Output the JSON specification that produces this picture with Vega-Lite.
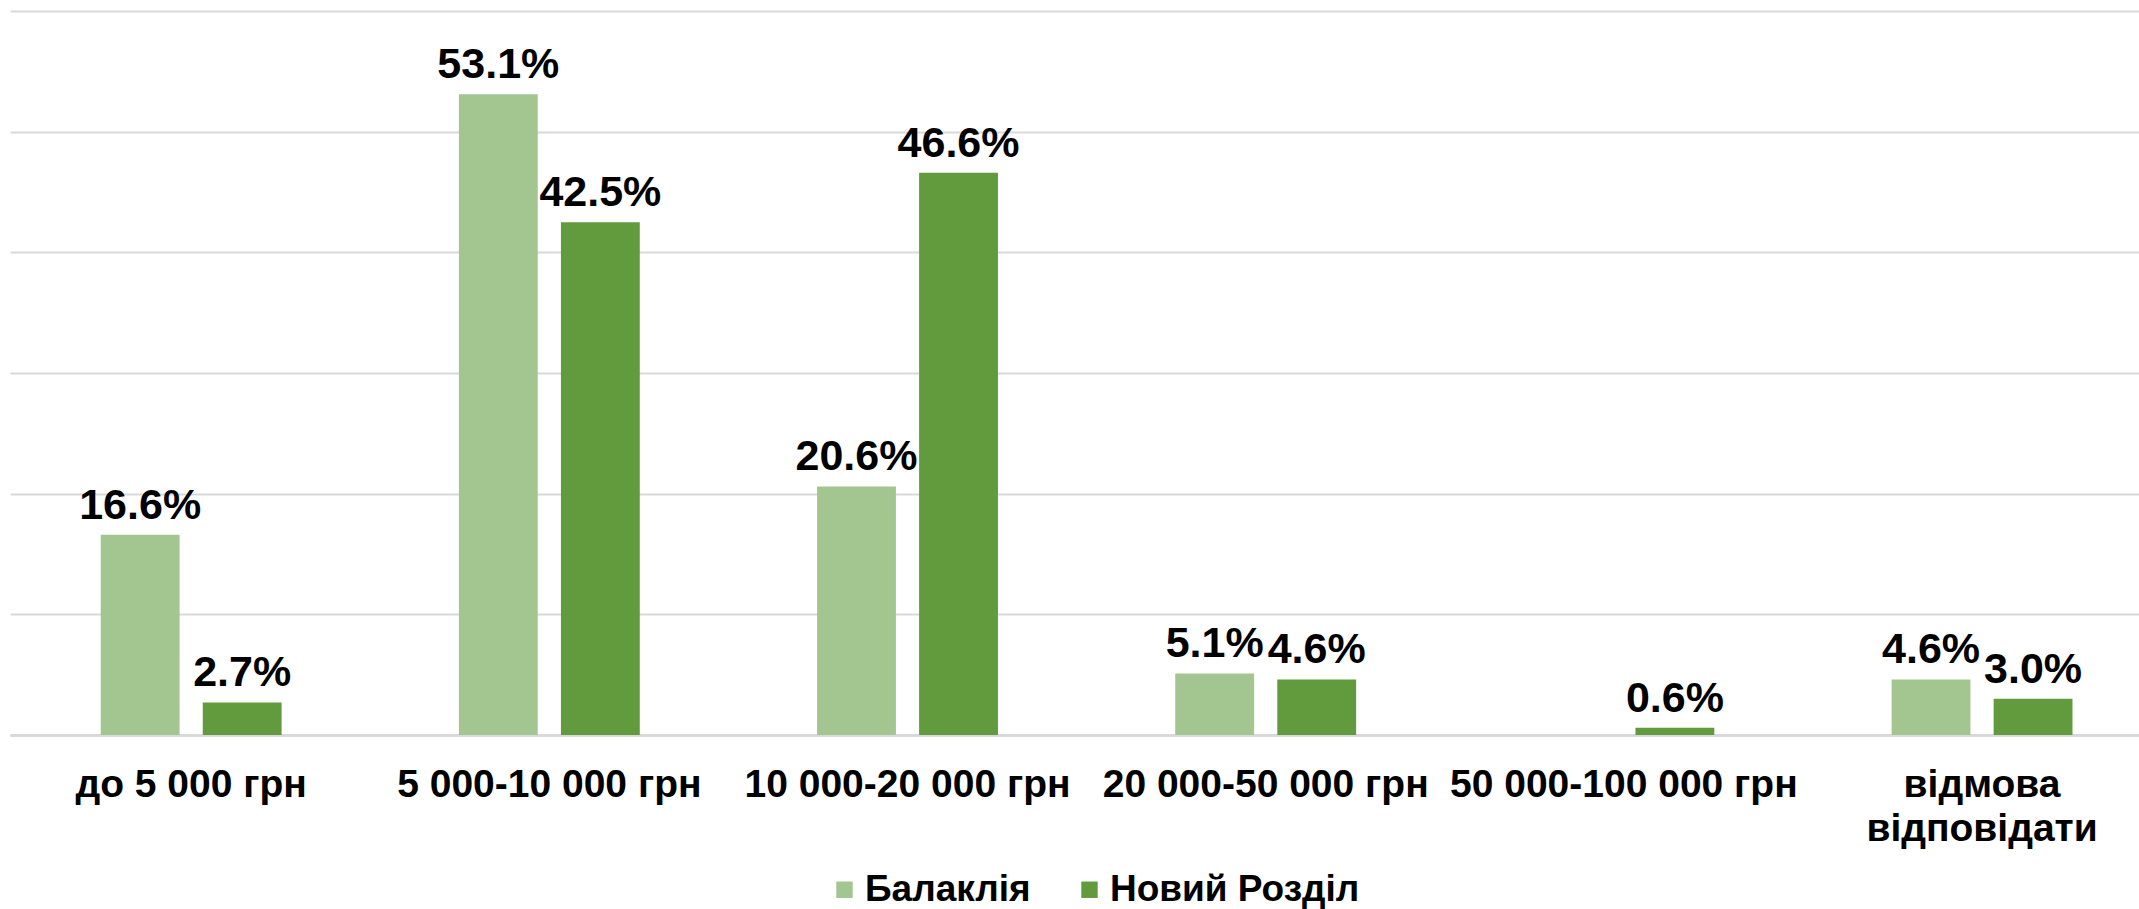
{
  "$schema": "https://vega.github.io/schema/vega-lite/v6.json",
  "width": 2129,
  "height": 724,
  "autosize": {"type": "none"},
  "padding": {"left": 10, "top": 11, "right": 0, "bottom": 174},
  "background": "white",
  "config": {
    "view": {"stroke": null},
    "font": "Liberation Sans"
  },
  "data": {
    "values": [
      {"cat": "до 5 000 грн", "city": "Балаклія", "v": 0.166},
      {"cat": "до 5 000 грн", "city": "Новий Розділ", "v": 0.027},
      {"cat": "5 000-10 000 грн", "city": "Балаклія", "v": 0.531},
      {"cat": "5 000-10 000 грн", "city": "Новий Розділ", "v": 0.425},
      {"cat": "10 000-20 000 грн", "city": "Балаклія", "v": 0.206},
      {"cat": "10 000-20 000 грн", "city": "Новий Розділ", "v": 0.466},
      {"cat": "20 000-50 000 грн", "city": "Балаклія", "v": 0.051},
      {"cat": "20 000-50 000 грн", "city": "Новий Розділ", "v": 0.046},
      {"cat": "50 000-100 000 грн", "city": "Новий Розділ", "v": 0.006},
      {"cat": "відмова відповідати", "city": "Балаклія", "v": 0.046},
      {"cat": "відмова відповідати", "city": "Новий Розділ", "v": 0.030}
    ]
  },
  "encoding": {
    "x": {
      "field": "cat",
      "type": "nominal",
      "sort": ["до 5 000 грн", "5 000-10 000 грн", "10 000-20 000 грн", "20 000-50 000 грн", "50 000-100 000 грн", "відмова відповідати"],
      "scale": {"paddingInner": 0.495, "paddingOuter": 0.2195, "align": 0.577},
      "axis": {
        "title": null,
        "labelAngle": 0,
        "labelFontSize": 39,
        "labelFontWeight": "bold",
        "labelColor": "#000000",
        "labelPadding": 30,
        "labelLineHeight": 44,
        "labelLimit": 0,
        "ticks": false,
        "domainColor": "#D9D9D9",
        "domainWidth": 3,
        "labelExpr": "datum.value == 'відмова відповідати' ? ['відмова', 'відповідати'] : datum.value"
      }
    },
    "xOffset": {
      "field": "city",
      "type": "nominal",
      "sort": ["Балаклія", "Новий Розділ"],
      "scale": {"paddingInner": 0.227, "paddingOuter": 0}
    },
    "y": {
      "field": "v",
      "type": "quantitative",
      "scale": {"domain": [0, 0.6]},
      "axis": {
        "title": null,
        "labels": false,
        "ticks": false,
        "domain": false,
        "values": [0, 0.1, 0.2, 0.3, 0.4, 0.5, 0.6],
        "gridColor": "#D9D9D9",
        "gridWidth": 2
      }
    }
  },
  "layer": [
    {
      "mark": {"type": "bar"},
      "encoding": {
        "color": {
          "field": "city",
          "type": "nominal",
          "sort": ["Балаклія", "Новий Розділ"],
          "scale": {"domain": ["Балаклія", "Новий Розділ"], "range": ["#A3C590", "#629B3E"]},
          "legend": {
            "title": null,
            "orient": "none",
            "direction": "horizontal",
            "legendX": 816,
            "legendY": 860,
            "symbolType": "square",
            "symbolSize": 270,
            "symbolStrokeWidth": 0,
            "labelFontSize": 37,
            "labelFontWeight": "bold",
            "labelColor": "#000000",
            "labelOffset": 2,
            "labelLimit": 0,
            "columnPadding": 40
          }
        }
      }
    },
    {
      "mark": {"type": "text", "baseline": "alphabetic", "dy": -16, "fontSize": 43, "fontWeight": "bold", "color": "#000000"},
      "encoding": {
        "text": {"field": "v", "type": "quantitative", "format": ".1%"}
      }
    }
  ]
}
